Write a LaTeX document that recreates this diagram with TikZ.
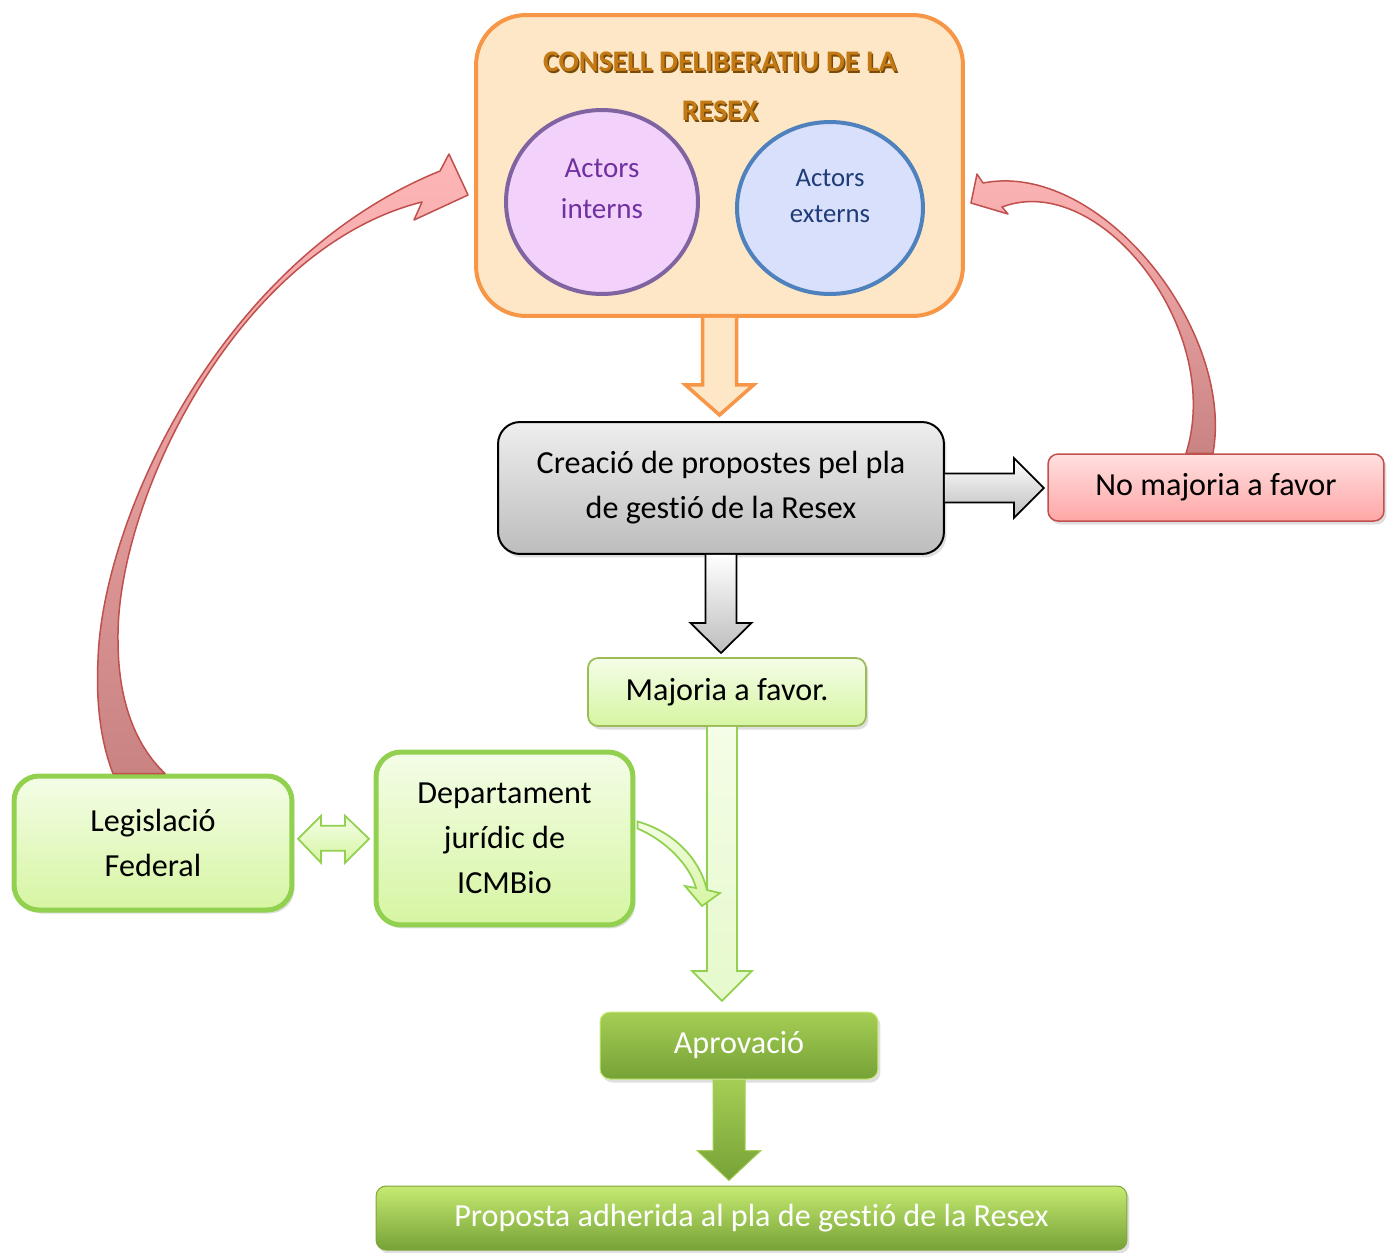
\documentclass[tikz,border=0pt]{standalone}
\usepackage{fontspec}
\setmainfont{Carlito}[Ligatures=CommonOff]
\usetikzlibrary{calc,shapes.geometric,shadows}
\definecolor{orS}{HTML}{F79646}
\definecolor{orF}{HTML}{FDE7C6}
\definecolor{puS}{HTML}{8064A2}
\definecolor{puF}{HTML}{F2D2FB}
\definecolor{puT}{HTML}{7030A0}
\definecolor{blS}{HTML}{4F81BD}
\definecolor{blF}{HTML}{D9E0FB}
\definecolor{blT}{HTML}{1F3C78}
\definecolor{ttl}{HTML}{C47A14}
\definecolor{ttlsh}{HTML}{7A4A08}
\definecolor{gyT}{HTML}{EEEEEE}
\definecolor{gyB}{HTML}{BDBDBD}
\definecolor{rdS}{HTML}{C0504D}
\definecolor{rdT}{HTML}{FFE0E0}
\definecolor{rdB}{HTML}{FFA6A6}
\definecolor{raT}{HTML}{FFB6B6}
\definecolor{raB}{HTML}{C98383}
\definecolor{lgS}{HTML}{9BBB59}
\definecolor{lgS2}{HTML}{92D050}
\definecolor{lgT}{HTML}{F4FDE7}
\definecolor{lgB}{HTML}{D6F5A2}
\definecolor{laF}{HTML}{E6F9CC}
\definecolor{dgT}{HTML}{A5CE55}
\definecolor{dgB}{HTML}{76A236}
\definecolor{dgL}{HTML}{C6EA72}
\definecolor{dgS}{HTML}{7FA63C}
\begin{document}
\begin{tikzpicture}[x=0.02cm,y=-0.02cm,
  txt/.style={font=\fontsize{18.3}{25.6}\selectfont, align=center, inner sep=0pt},
  shad/.style={drop shadow={shadow xshift=0.05cm, shadow yshift=-0.07cm, opacity=0.25}},
  consellbox/.style={rectangle, draw=orS, line width=0.08cm, fill=orF, rounded corners=1cm, minimum width=9.74cm, minimum height=6.02cm, inner sep=0pt},
  titletxt/.style={font=\fontsize{17}{27.9}\selectfont\bfseries, align=center, inner sep=0pt},
  actortxt/.style={align=center, inner sep=0pt},
  graybox/.style={txt, rectangle, draw=black, line width=0.04cm, top color=gyT, bottom color=gyB, rounded corners=0.44cm, shad},
  redbox/.style={txt, rectangle, draw=rdS, line width=0.03cm, top color=rdT, bottom color=rdB, rounded corners=0.2cm, shad},
  lgbox/.style={txt, rectangle, draw=lgS, line width=0.035cm, top color=lgT, bottom color=lgB, rounded corners=0.2cm, shad},
  lgbigbox/.style={txt, rectangle, draw=lgS2, line width=0.1cm, top color=lgT, bottom color=lgB, rounded corners=0.5cm, shad},
  dgbox/.style={txt, rectangle, draw=dgL, line width=0.02cm, top color=dgT, bottom color=dgB, text=white, rounded corners=0.2cm, shad},
  redarrow/.style={draw=rdS, line width=0.03cm, top color=raT, bottom color=raB, line join=round},
  lgarrow/.style={draw=lgS2, line width=0.035cm, top color=lgT, bottom color=laF, line join=miter},
  grarrow/.style={draw=black, line width=0.035cm, top color=white, bottom color=gyB, line join=miter},
]
\useasboundingbox (0,0) rectangle (1387,1252);

% ---------- nodes ----------
\node[consellbox] (consell) at (719.5,165.5) {};
\node[titletxt, text=ttlsh] (titlesh) at (721.5,88) {CONSELL DELIBERATIU DE LA\\RESEX};
\node[titletxt, text=ttl] (title) at (720,86.5) {CONSELL DELIBERATIU DE LA\\RESEX};
\node[ellipse, draw=puS, fill=puF, line width=0.08cm, minimum width=3.84cm, minimum height=3.68cm, inner sep=0pt] (intE) at (602,202) {};
\node[actortxt, text=puT, font=\fontsize{16.5}{23.3}\selectfont] (intT) at (602,189) {Actors\\interns};
\node[ellipse, draw=blS, fill=blF, line width=0.08cm, minimum width=3.72cm, minimum height=3.44cm, inner sep=0pt] (extE) at (830,208) {};
\node[actortxt, text=blT, font=\fontsize{15.2}{21}\selectfont] (extT) at (830,196) {Actors\\externs};

\node[graybox, minimum width=8.92cm, minimum height=2.64cm] (creacio) at (721,488) {Creació de propostes pel pla\\de gestió de la Resex};
\node[redbox, minimum width=6.72cm, minimum height=1.34cm] (nomaj) at (1216,487.5) {No majoria a favor};
\node[lgbox, minimum width=5.56cm, minimum height=1.36cm] (majoria) at (727,692) {Majoria a favor.};
\node[lgbigbox, minimum width=5.56cm, minimum height=2.68cm] (legis) at (153,843) {Legislació\\Federal};
\node[lgbigbox, minimum width=5.14cm, minimum height=3.46cm] (dept) at (504.5,838.5) {Departament\\jurídic de\\ICMBio};
\node[dgbox, minimum width=5.56cm, minimum height=1.34cm] (aprov) at (739,1045.5) {Aprovació};
\node[dgbox, draw=dgS, minimum width=15.02cm, minimum height=1.28cm, top color=dgL, middle color=dgT, bottom color=dgB] (final) at (751.5,1218) {Proposta adherida al pla de gestió de la Resex};

% ---------- coordinates for curved arrows ----------
\coordinate (lA) at ($(legis.north)+(-40,0)$);
\coordinate (lB) at ($(legis.north)+(12,0)$);
\coordinate (lT) at ($(consell.west)+(-6,29.5)$);
\coordinate (rA) at ($(nomaj.north)+(-3,0)$);
\coordinate (rB) at ($(nomaj.north)+(-30,0)$);
\coordinate (rT) at ($(consell.east)+(6,37.5)$);
\coordinate (da) at ($(legis.east)!0.5!(dept.west)$);
\coordinate (sgA) at ($(dept.east)+(2,-17)$);
\coordinate (sgB) at ($(dept.east)+(2,-10)$);
\coordinate (sgT) at (702,906);

% ---------- curved red arrows ----------
\draw[redarrow] (lA) .. controls (100,740) and (96,700) .. (98,660)
   .. controls (102,520) and (220,260) .. (440,171) -- (449,154) -- (lT) -- (414,220) -- (422,202)
   .. controls (238,248) and (116,500) .. (118,640)
   .. controls (118,700) and (135,745) .. (lB) -- cycle;
\draw[redarrow] (983,183) .. controls (1100,160) and (1235,330) .. (rA) -- (rB)
   .. controls (1225,330) and (1100,170) .. (1002,207) -- (1008,214) -- (rT) -- (977,174) -- cycle;

% ---------- block arrows ----------
\draw[orS, line width=0.07cm, fill=orF, line join=miter] (consell.south) ++(-17,0) -- ++(0,67) -- ++(-17,0) -- ++(34,30) -- ++(34,-30) -- ++(-17,0) -- ++(0,-67);
\draw[grarrow] (creacio.east) ++(0,-14.5) -- ++(69,0) -- ++(0,-15.5) -- ++(30,30) -- ++(-30,30) -- ++(0,-15.5) -- ++(-69,0);
\draw[grarrow] (creacio.south) ++(-15.5,0) -- ++(0,68) -- ++(-15,0) -- ++(30.5,30) -- ++(30.5,-30) -- ++(-15,0) -- ++(0,-68);
\draw[lgarrow] ($(majoria.south)+(-5,0)$) ++(-15,0) -- ++(0,244) -- ++(-15,0) -- ++(30,30) -- ++(30,-30) -- ++(-15,0) -- ++(0,-244);
\draw[draw=dgT, line width=0.02cm, top color=dgT, bottom color=dgB, line join=miter] ($(aprov.south)+(-10,0)$) ++(-16,0) -- ++(0,71) -- ++(-16,0) -- ++(32,30) -- ++(32,-30) -- ++(-16,0) -- ++(0,-71);
\draw[lgarrow, top color=lgT, bottom color=lgB] ($(da)+(-36,-2)$) -- ++(23,-23) -- ++(0,10) -- ++(24,0) -- ++(0,-10) -- ++(24,23) -- ++(-24,24) -- ++(0,-12) -- ++(-24,0) -- ++(0,12) -- cycle;
\draw[lgarrow, top color=lgT, bottom color=lgB] (sgA) .. controls (675,832) and (700,860) .. (707,890) -- (720,893) -- (sgT) -- (685,886) -- (696,888)
   .. controls (690,865) and (665,840) .. (sgB) -- cycle;
\end{tikzpicture}
\end{document}
